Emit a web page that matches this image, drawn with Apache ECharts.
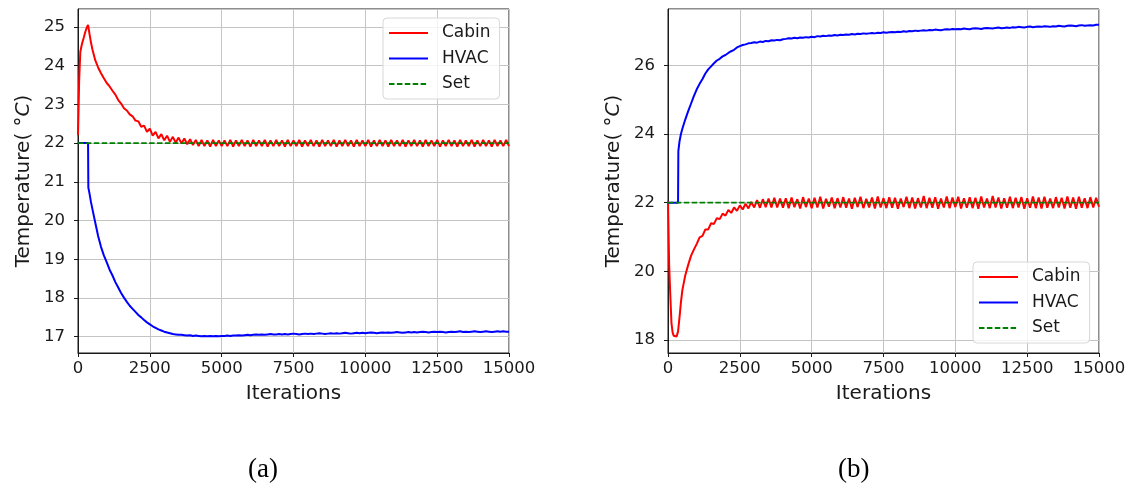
<!DOCTYPE html>
<html>
<head>
<meta charset="utf-8">
<script src="https://cdn.jsdelivr.net/npm/echarts@6/dist/echarts.min.js"></script>
<style>
  html, body { margin: 0; padding: 0; background: #fff; }
  #chart { width: 1135px; height: 489px; }
</style>
</head>
<body>
<div id="chart"></div>
<script>
// iterations (shared by both panels)
var iters = [
  0, 40, 80, 120, 160, 200, 250, 300, 350, 360,
  400, 450, 500, 600, 700, 800, 900, 1000,
  1100, 1200, 1300, 1400, 1500, 1600, 1700, 1800, 1900, 2000,
  2100, 2200, 2300, 2400, 2500, 2600, 2700, 2800, 2900, 3000,
  3100, 3200, 3300, 3400, 3500, 3600, 3700, 3800, 3900, 4000,
  4100, 4200, 4300, 4400, 4500, 4600, 4700, 4800, 4900, 5000,
  5100, 5200, 5300, 5400, 5500, 5600, 5700, 5800, 5900, 6000,
  6100, 6200, 6300, 6400, 6500, 6600, 6700, 6800, 6900, 7000,
  7100, 7200, 7300, 7400, 7500, 7600, 7700, 7800, 7900, 8000,
  8100, 8200, 8300, 8400, 8500, 8600, 8700, 8800, 8900, 9000,
  9100, 9200, 9300, 9400, 9500, 9600, 9700, 9800, 9900, 10000,
  10100, 10200, 10300, 10400, 10500, 10600, 10700, 10800, 10900, 11000,
  11100, 11200, 11300, 11400, 11500, 11600, 11700, 11800, 11900, 12000,
  12100, 12200, 12300, 12400, 12500, 12600, 12700, 12800, 12900, 13000,
  13100, 13200, 13300, 13400, 13500, 13600, 13700, 13800, 13900, 14000,
  14100, 14200, 14300, 14400, 14500, 14600, 14700, 14800, 14900, 15000
];

var setPoint = 22;

// (a) cabin temperature
var cabinA = [
  22.2, 23.6, 24.35, 24.5, 24.62, 24.72, 24.86, 24.97, 25.05, 25.02,
  24.82, 24.6, 24.42, 24.14, 23.95, 23.8, 23.67, 23.55,
  23.46, 23.35, 23.25, 23.11, 23.02, 22.9, 22.84, 22.74, 22.69, 22.58,
  22.56, 22.42, 22.45, 22.29, 22.37, 22.19, 22.29, 22.12, 22.23, 22.07,
  22.19, 22.03, 22.16, 22.01, 22.14, 21.99, 22.12, 21.97, 22.1, 21.95,
  22.08, 21.92, 22.08, 21.92, 22.07, 21.91, 22.08, 21.92, 22.07, 21.92,
  22.07, 21.92, 22.08, 21.91, 22.07, 21.92, 22.08, 21.92, 22.07, 21.91,
  22.08, 21.92, 22.07, 21.92, 22.08, 21.91, 22.07, 21.92, 22.08, 21.92,
  22.07, 21.91, 22.08, 21.92, 22.07, 21.92, 22.08, 21.91, 22.07, 21.92,
  22.08, 21.92, 22.07, 21.91, 22.08, 21.92, 22.07, 21.92, 22.08, 21.91,
  22.07, 21.92, 22.08, 21.92, 22.07, 21.91, 22.08, 21.92, 22.07, 21.92,
  22.08, 21.91, 22.07, 21.92, 22.08, 21.92, 22.07, 21.91, 22.08, 21.92,
  22.07, 21.92, 22.08, 21.91, 22.07, 21.92, 22.08, 21.92, 22.07, 21.91,
  22.08, 21.92, 22.07, 21.92, 22.08, 21.91, 22.07, 21.92, 22.08, 21.92,
  22.07, 21.91, 22.08, 21.92, 22.07, 21.92, 22.08, 21.91, 22.07, 21.92,
  22.08, 21.92, 22.07, 21.91, 22.08, 21.92, 22.07, 21.92, 22.08, 21.92
];

// (a) HVAC supply temperature
var hvacA = [
  22.0, 22.0, 22.0, 22.0, 22.0, 22.0, 22.0, 22.0, 22.0, 20.85,
  20.7, 20.48, 20.3, 19.95, 19.6, 19.32, 19.1, 18.92,
  18.73, 18.58, 18.41, 18.27, 18.13, 18.01, 17.9, 17.8, 17.72, 17.64,
  17.56, 17.5, 17.43, 17.37, 17.32, 17.27, 17.23, 17.19, 17.16, 17.13,
  17.11, 17.09, 17.07, 17.06, 17.05, 17.05, 17.04, 17.03, 17.04, 17.02,
  17.03, 17.02, 17.01, 17.02, 17.01, 17.02, 17.01, 17.02, 17.01, 17.02,
  17.02, 17.03, 17.02, 17.03, 17.03, 17.04, 17.03, 17.04, 17.05, 17.04,
  17.05, 17.06, 17.05, 17.06, 17.05, 17.06, 17.07, 17.06, 17.06, 17.07,
  17.06, 17.07, 17.06, 17.07, 17.08, 17.07, 17.06, 17.07, 17.08, 17.07,
  17.08, 17.07, 17.08, 17.09, 17.08, 17.07, 17.08, 17.09, 17.08, 17.09,
  17.08, 17.09, 17.1, 17.09, 17.08, 17.09, 17.1, 17.09, 17.1, 17.09,
  17.1, 17.11, 17.1, 17.09, 17.1, 17.11, 17.1, 17.11, 17.1, 17.11,
  17.12, 17.11, 17.1, 17.11, 17.12, 17.11, 17.12, 17.11, 17.12, 17.13,
  17.12, 17.11, 17.12, 17.13, 17.12, 17.13, 17.12, 17.11, 17.12, 17.13,
  17.12, 17.13, 17.14, 17.12, 17.13, 17.12, 17.13, 17.14, 17.13, 17.12,
  17.13, 17.14, 17.13, 17.12, 17.13, 17.14, 17.13, 17.14, 17.13, 17.13
];

// (b) cabin temperature
var cabinB = [
  22.05, 20.2, 19.3, 18.5, 18.22, 18.12, 18.08, 18.1, 18.25, 18.3,
  18.65, 19.1, 19.45, 19.88, 20.18, 20.45, 20.63, 20.8,
  20.99, 21.03, 21.22, 21.22, 21.4, 21.38, 21.55, 21.52, 21.68, 21.62,
  21.79, 21.7, 21.86, 21.76, 21.92, 21.8, 21.97, 21.83, 22.02, 21.86,
  22.07, 21.85, 22.1, 21.87, 22.12, 21.86, 22.14, 21.86, 22.12, 21.85,
  22.13, 21.84, 22.15, 21.87, 22.1, 21.83, 22.16, 21.87, 22.12, 21.84,
  22.14, 21.86, 22.17, 21.83, 22.11, 21.88, 22.15, 21.84, 22.13, 21.86,
  22.16, 21.85, 22.12, 21.82, 22.14, 21.87, 22.17, 21.84, 22.11, 21.86,
  22.15, 21.83, 22.18, 21.86, 22.13, 21.84, 22.16, 21.85, 22.14, 21.82,
  22.12, 21.87, 22.17, 21.84, 22.15, 21.83, 22.13, 21.86, 22.19, 21.84,
  22.14, 21.85, 22.16, 21.82, 22.12, 21.86, 22.18, 21.84, 22.15, 21.87,
  22.17, 21.83, 22.13, 21.85, 22.16, 21.84, 22.14, 21.82, 22.18, 21.86,
  22.12, 21.84, 22.19, 21.86, 22.15, 21.83, 22.13, 21.85, 22.17, 21.84,
  22.14, 21.86, 22.16, 21.82, 22.13, 21.85, 22.18, 21.84, 22.15, 21.83,
  22.17, 21.85, 22.12, 21.84, 22.16, 21.86, 22.14, 21.83, 22.18, 21.85,
  22.15, 21.82, 22.17, 21.85, 22.13, 21.84, 22.16, 21.86, 22.14, 21.88
];

// (b) HVAC supply temperature
var hvacB = [
  22.0, 22.0, 22.0, 22.0, 22.0, 22.0, 22.0, 22.0, 22.0, 23.5,
  23.78, 24.0, 24.15, 24.42, 24.66, 24.88, 25.1, 25.3,
  25.46, 25.6, 25.76, 25.88, 25.97, 26.06, 26.14, 26.19, 26.26, 26.3,
  26.36, 26.41, 26.45, 26.52, 26.56, 26.59, 26.61, 26.64, 26.65, 26.67,
  26.66, 26.69, 26.68, 26.71, 26.7, 26.73, 26.72, 26.74, 26.73, 26.76,
  26.77, 26.79, 26.78, 26.8, 26.79, 26.81, 26.8, 26.82, 26.81, 26.83,
  26.82, 26.85, 26.84, 26.86, 26.85, 26.87, 26.86, 26.88, 26.87, 26.89,
  26.88, 26.9, 26.89, 26.91, 26.9, 26.92, 26.91, 26.93, 26.92, 26.93,
  26.94, 26.93, 26.95, 26.94, 26.96, 26.95, 26.96, 26.97, 26.96, 26.98,
  26.97, 26.99, 26.98, 27.0, 26.99, 27.01, 27.0, 27.01, 27.02, 27.01,
  27.03, 27.02, 27.04, 27.03, 27.02, 27.04, 27.05, 27.04, 27.06, 27.05,
  27.06, 27.05, 27.07, 27.06, 27.05, 27.07, 27.08, 27.07, 27.06, 27.08,
  27.09, 27.08, 27.07, 27.09, 27.1, 27.08, 27.09, 27.1, 27.09, 27.11,
  27.1, 27.12, 27.11, 27.1, 27.12, 27.13, 27.11, 27.12, 27.13, 27.12,
  27.14, 27.13, 27.12, 27.14, 27.13, 27.15, 27.14, 27.13, 27.15, 27.16,
  27.15, 27.14, 27.16, 27.17, 27.15, 27.16, 27.17, 27.16, 27.18, 27.18
];

var xTicks = { min: 0, max: 15000, step: 2500 };
var legendNames = ['Cabin', 'HVAC', 'Set'];
var captions = ['(a)', '(b)'];

function pairs(ys) {
  return iters.map(function (x, i) { return [x, ys[i]]; });
}

var FONT = 'DejaVu Sans';
var INK = '#1a1a1a';

function xAxisCfg(idx) {
  return {
    type: 'value', gridIndex: idx,
    min: xTicks.min, max: xTicks.max, interval: xTicks.step,
    name: 'Iterations', nameLocation: 'middle', nameGap: 31,
    nameTextStyle: { fontFamily: FONT, fontSize: 20, color: INK },
    axisLine: { show: true, lineStyle: { color: INK, width: 1 } },
    axisTick: { show: true, inside: false, length: 4, lineStyle: { color: INK } },
    axisLabel: {
      fontFamily: FONT, fontSize: 16.5, color: INK, margin: 7,
      formatter: function (v) { return String(v); }
    },
    splitLine: { show: true, lineStyle: { color: '#c4c4c4', width: 1 } }
  };
}

function yAxisCfg(idx, lo, hi, n) {
  return {
    type: 'value', gridIndex: idx,
    min: lo, max: hi, splitNumber: n,
    name: '{a|Temperature( °}{c|C}{a|)}',
    nameLocation: 'middle', nameGap: 44, nameRotate: 90,
    nameTextStyle: {
      rich: {
        a: { fontFamily: FONT, fontSize: 20, color: INK },
        c: { fontFamily: FONT, fontSize: 20, color: INK, fontStyle: 'italic' }
      }
    },
    axisLine: { show: true, lineStyle: { color: INK, width: 1 } },
    axisTick: { show: true, inside: false, length: 4, lineStyle: { color: INK } },
    axisLabel: {
      fontFamily: FONT, fontSize: 16.5, color: INK, margin: 13,
      showMinLabel: false, showMaxLabel: false
    },
    splitLine: { show: true, lineStyle: { color: '#c4c4c4', width: 1 } }
  };
}

function lineSeries(name, idx, data, color, dashed) {
  return {
    name: name, type: 'line', xAxisIndex: idx, yAxisIndex: idx,
    data: data, symbol: 'none', animation: false,
    lineStyle: { color: color, width: dashed ? 1.7 : 2, type: dashed ? [5.5, 2.4] : 'solid' },
    itemStyle: { color: color }
  };
}

function legendCfg(left, top) {
  return {
    data: legendNames, orient: 'vertical', left: left, top: top,
    itemWidth: 39, itemHeight: 14, itemGap: 8.5,
    padding: [6.5, 9, 6.5, 5],
    backgroundColor: 'rgba(255,255,255,0.8)',
    borderColor: '#d8d8d8', borderWidth: 1, borderRadius: 4,
    itemStyle: { opacity: 0 },
    textStyle: { fontFamily: FONT, fontSize: 17, lineHeight: 17, color: INK, padding: [0, 0, 0, 9] },
    selectedMode: false
  };
}

var chart = echarts.init(document.getElementById('chart'), null, { renderer: 'canvas' });
chart.setOption({
  backgroundColor: '#ffffff',
  animation: false,
  grid: [
    { left: 78, top: 9, width: 431, height: 344, show: true, borderColor: INK, borderWidth: 1, outerBoundsMode: 'none' },
    { left: 668, top: 9, width: 431, height: 344, show: true, borderColor: INK, borderWidth: 1, outerBoundsMode: 'none' }
  ],
  xAxis: [xAxisCfg(0), xAxisCfg(1)],
  yAxis: [yAxisCfg(0, 16.58, 25.46, 9), yAxisCfg(1, 17.62, 27.64, 5)],
  legend: [legendCfg(383, 18), legendCfg(973, 262)],
  series: [
    lineSeries('Cabin', 0, pairs(cabinA), '#ff0000', false),
    lineSeries('HVAC', 0, pairs(hvacA), '#0000ff', false),
    lineSeries('Set', 0, [[xTicks.min, setPoint], [xTicks.max, setPoint]], '#008000', true),
    lineSeries('Cabin', 1, pairs(cabinB), '#ff0000', false),
    lineSeries('HVAC', 1, pairs(hvacB), '#0000ff', false),
    lineSeries('Set', 1, [[xTicks.min, setPoint], [xTicks.max, setPoint]], '#008000', true)
  ],
  graphic: [
    { type: 'text', left: 248, top: 456, style: { text: captions[0], font: '27px "Liberation Serif", serif', fill: '#000' } },
    { type: 'text', left: 838, top: 456, style: { text: captions[1], font: '27px "Liberation Serif", serif', fill: '#000' } }
  ]
});
</script>
</body>
</html>
